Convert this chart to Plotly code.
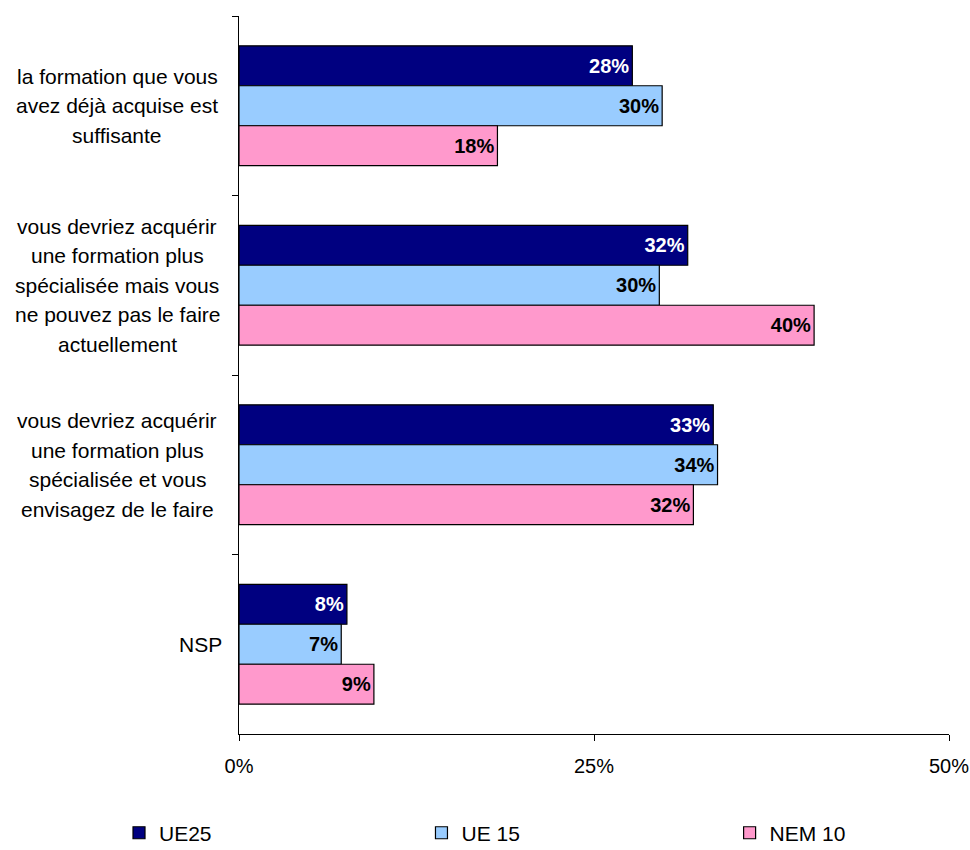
import plotly.graph_objects as go

# ---- data ----
category_lines = [
    ["la formation que vous", "avez déjà acquise est", "suffisante"],
    ["vous devriez acquérir", "une formation plus", "spécialisée mais vous", "ne pouvez pas le faire", "actuellement"],
    ["vous devriez acquérir", "une formation plus", "spécialisée et vous", "envisagez de le faire"],
    ["NSP"],
]
categories = [" ".join(lines) for lines in category_lines]

series_names = ["UE25", "UE 15", "NEM 10"]
ue25 = [27.7, 31.6, 33.4, 7.6]
ue15 = [29.8, 29.6, 33.7, 7.2]
nem10 = [18.2, 40.5, 32.0, 9.5]
ue25_labels = ["28%", "32%", "33%", "8%"]
ue15_labels = ["30%", "30%", "34%", "7%"]
nem10_labels = ["18%", "40%", "32%", "9%"]

x_ticks = [0, 25, 50]
x_tick_labels = ["0%", "25%", "50%"]

# ---- style ----
FONT = "Liberation Sans, Arial, sans-serif"
colors = ["#000080", "#99CCFF", "#FF99CC"]
text_colors = ["white", "black", "black"]
legend_ids = ["legend", "legend2", "legend3"]

fig = go.Figure()
for name, vals, labels, col, tcol, lg in zip(
    series_names, [ue25, ue15, nem10], [ue25_labels, ue15_labels, nem10_labels],
    colors, text_colors, legend_ids
):
    fig.add_trace(go.Bar(
        name=name, y=categories, x=vals, orientation="h",
        marker=dict(color=col, line=dict(color="black", width=1.2)),
        text=labels, textposition="inside", insidetextanchor="end",
        textfont=dict(family=FONT, size=20, color=tcol, weight="bold"),
        legend=lg, hoverinfo="skip",
    ))

# category labels as centered multi-line text
annotations = []
for cat, lines in zip(categories, category_lines):
    n = len(lines)
    for i, line in enumerate(lines):
        if n == 1:
            xa, xs = "right", -15
        else:
            xa, xs = "center", -122
        annotations.append(dict(
            text=line, xref="paper", x=0, yref="y", y=cat,
            xanchor=xa, yanchor="middle", xshift=xs,
            yshift=((n - 1) / 2 - i) * 29.5,
            showarrow=False, font=dict(family=FONT, size=21, color="black"),
        ))

legend_common = dict(orientation="h", yanchor="middle", y=-0.138, xanchor="left",
                     font=dict(family=FONT, size=21, color="black"),
                     bgcolor="rgba(0,0,0,0)", traceorder="normal")

fig.update_layout(
    width=970, height=850,
    margin=dict(l=239, r=21, t=16, b=116, autoexpand=False),
    paper_bgcolor="white", plot_bgcolor="white",
    barmode="group", bargap=0.332, bargroupgap=0,
    font=dict(family=FONT, size=20, color="black"),
    annotations=annotations,
    showlegend=True,
    legend=dict(x=-0.169, **legend_common),
    legend2=dict(x=0.257, **legend_common),
    legend3=dict(x=0.691, **legend_common),
)
fig.update_xaxes(
    range=[0, 50], tickvals=x_ticks, ticktext=x_tick_labels,
    showgrid=False, zeroline=False, showline=True, linecolor="black", linewidth=1,
    ticks="outside", ticklen=6, tickcolor="black", ticklabelstandoff=8,
    tickfont=dict(family=FONT, size=20, color="black"), fixedrange=True,
)
fig.update_yaxes(
    categoryorder="array", categoryarray=categories, range=[3.5, -0.5],
    showticklabels=False, showgrid=False, zeroline=False,
    showline=True, linecolor="black", linewidth=1,
    ticks="outside", ticklen=6, tickcolor="black", tickson="boundaries",
    fixedrange=True,
)

fig.write_html(
    "out.html",
    config={"displayModeBar": False},
    post_script="document.body.style.margin='0';document.body.style.overflow='hidden';",
)
